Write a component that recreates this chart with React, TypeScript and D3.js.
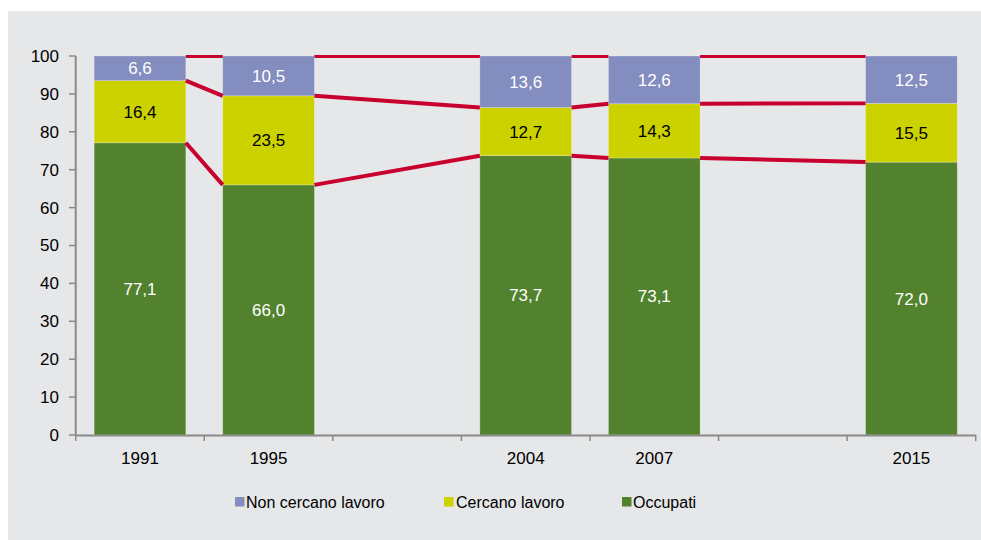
import React from "react";
import * as d3 from "d3";

const categories = ["1991", "1995", "gap1", "2004", "2007", "gap2", "2015"];
const years = ["1991", "1995", "2004", "2007", "2015"];
const occupati = [77.1, 66.0, 73.7, 73.1, 72.0];
const cercano = [16.4, 23.5, 12.7, 14.3, 15.5];
const nonCercano = [6.6, 10.5, 13.6, 12.6, 12.5];
const yTicks = [0, 10, 20, 30, 40, 50, 60, 70, 80, 90, 100];
const seriesNames = ["Non cercano lavoro", "Cercano lavoro", "Occupati"];

const W = 981, H = 540;
const C_PURPLE = "#848DC0";
const C_YELLOW = "#CCD200";
const C_GREEN = "#52822E";
const C_RED = "#C8002E";
const C_BG = "#E6E7E9";
const C_AXIS = "#8A8A8A";
const FONT = "'Liberation Sans', Arial, sans-serif";
const FS = 17;

const fmt = (v: number) => v.toFixed(1).replace(".", ",");

export default function App() {
  const x = d3.scaleBand().domain(categories).range([75.7, 975.7]).paddingInner(0.287).paddingOuter(0.1435);
  const y = d3.scaleLinear().domain([0, 100]).range([435, 56]);
  const bw = x.bandwidth();

  const stacks = years.map((yr, i) => {
    const a = occupati[i];
    const b = Math.min(100, a + cercano[i]);
    return { yr, x0: x(yr)!, a, b, vals: [occupati[i], cercano[i], nonCercano[i]] };
  });

  const lineSegs: { x1: number; x2: number; y1: number; y2: number }[] = [];
  for (let i = 0; i < stacks.length - 1; i++) {
    const s = stacks[i], t = stacks[i + 1];
    const xa = s.x0 + bw, xb = t.x0;
    lineSegs.push({ x1: xa, x2: xb, y1: y(s.a), y2: y(t.a) });
    lineSegs.push({ x1: xa, x2: xb, y1: y(s.b), y2: y(t.b) });
    lineSegs.push({ x1: xa, x2: xb, y1: y(100), y2: y(100) });
  }

  const tickPositions = categories.map((c) => x(c)! - (x.step() - bw) / 2).concat([975.7]);

  const legendItems = [
    { name: seriesNames[0], color: C_PURPLE, sx: 235, tx: 246 },
    { name: seriesNames[1], color: C_YELLOW, sx: 444, tx: 456 },
    { name: seriesNames[2], color: C_GREEN, sx: 622, tx: 633 },
  ];

  return (
    <svg width={W} height={H} style={{ position: "absolute", left: 0, top: 0, display: "block" }} fontFamily={FONT}>
      <rect x={0} y={0} width={W} height={H} fill="#fff" />
      <rect x={8} y={11} width={W - 8} height={H - 11} fill={C_BG} />
      <defs>
        <clipPath id="plotclip">
          <rect x={75} y={55} width={910} height={390} />
        </clipPath>
      </defs>
      {stacks.map((s) => {
        const segs = [
          { lo: 0, hi: s.a, color: C_GREEN, txt: fmt(s.vals[0]), tc: "#fff" },
          { lo: s.a, hi: s.b, color: C_YELLOW, txt: fmt(s.vals[1]), tc: "#000" },
          { lo: s.b, hi: 100, color: C_PURPLE, txt: fmt(s.vals[2]), tc: "#fff" },
        ];
        return (
          <g key={s.yr}>
            {segs.map((g, j) => (
              <g key={j}>
                <rect x={s.x0} y={y(g.hi)} width={bw} height={y(g.lo) - y(g.hi)} fill={g.color} stroke="rgba(255,255,255,0.3)" strokeWidth={0.8} />
                <text x={s.x0 + bw / 2} y={(y(g.hi) + y(g.lo)) / 2} dy="0.35em" textAnchor="middle" fontSize={FS} fill={g.tc}>
                  {g.txt}
                </text>
              </g>
            ))}
          </g>
        );
      })}
      <g clipPath="url(#plotclip)">
        {lineSegs.map((l, i) => (
          <line key={i} x1={l.x1} x2={l.x2} y1={l.y1} y2={l.y2} stroke={C_RED} strokeWidth={4} />
        ))}
      </g>
      {/* y axis */}
      <line x1={75.7} x2={75.7} y1={56} y2={436} stroke={C_AXIS} strokeWidth={2} />
      {yTicks.map((t) => (
        <g key={t}>
          <line x1={69} x2={75.7} y1={y(t)} y2={y(t)} stroke={C_AXIS} strokeWidth={1.5} />
          <text x={59} y={y(t)} dy="0.35em" textAnchor="end" fontSize={FS} fill="#000">
            {t}
          </text>
        </g>
      ))}
      {/* x axis */}
      <line x1={75} x2={976} y1={435.5} y2={435.5} stroke={C_AXIS} strokeWidth={2} />
      {tickPositions.map((p, i) => (
        <line key={i} x1={p} x2={p} y1={435} y2={441} stroke={C_AXIS} strokeWidth={1.5} />
      ))}
      {years.map((yr) => (
        <text key={yr} x={x(yr)! + bw / 2} y={458} dy="0.35em" textAnchor="middle" fontSize={FS} fill="#000">
          {yr}
        </text>
      ))}
      {/* legend */}
      {legendItems.map((it) => (
        <g key={it.name}>
          <rect x={it.sx} y={497} width={9.5} height={9.5} fill={it.color} />
          <text x={it.tx} y={502} dy="0.35em" fontSize={16} fill="#000">
            {it.name}
          </text>
        </g>
      ))}
    </svg>
  );
}
